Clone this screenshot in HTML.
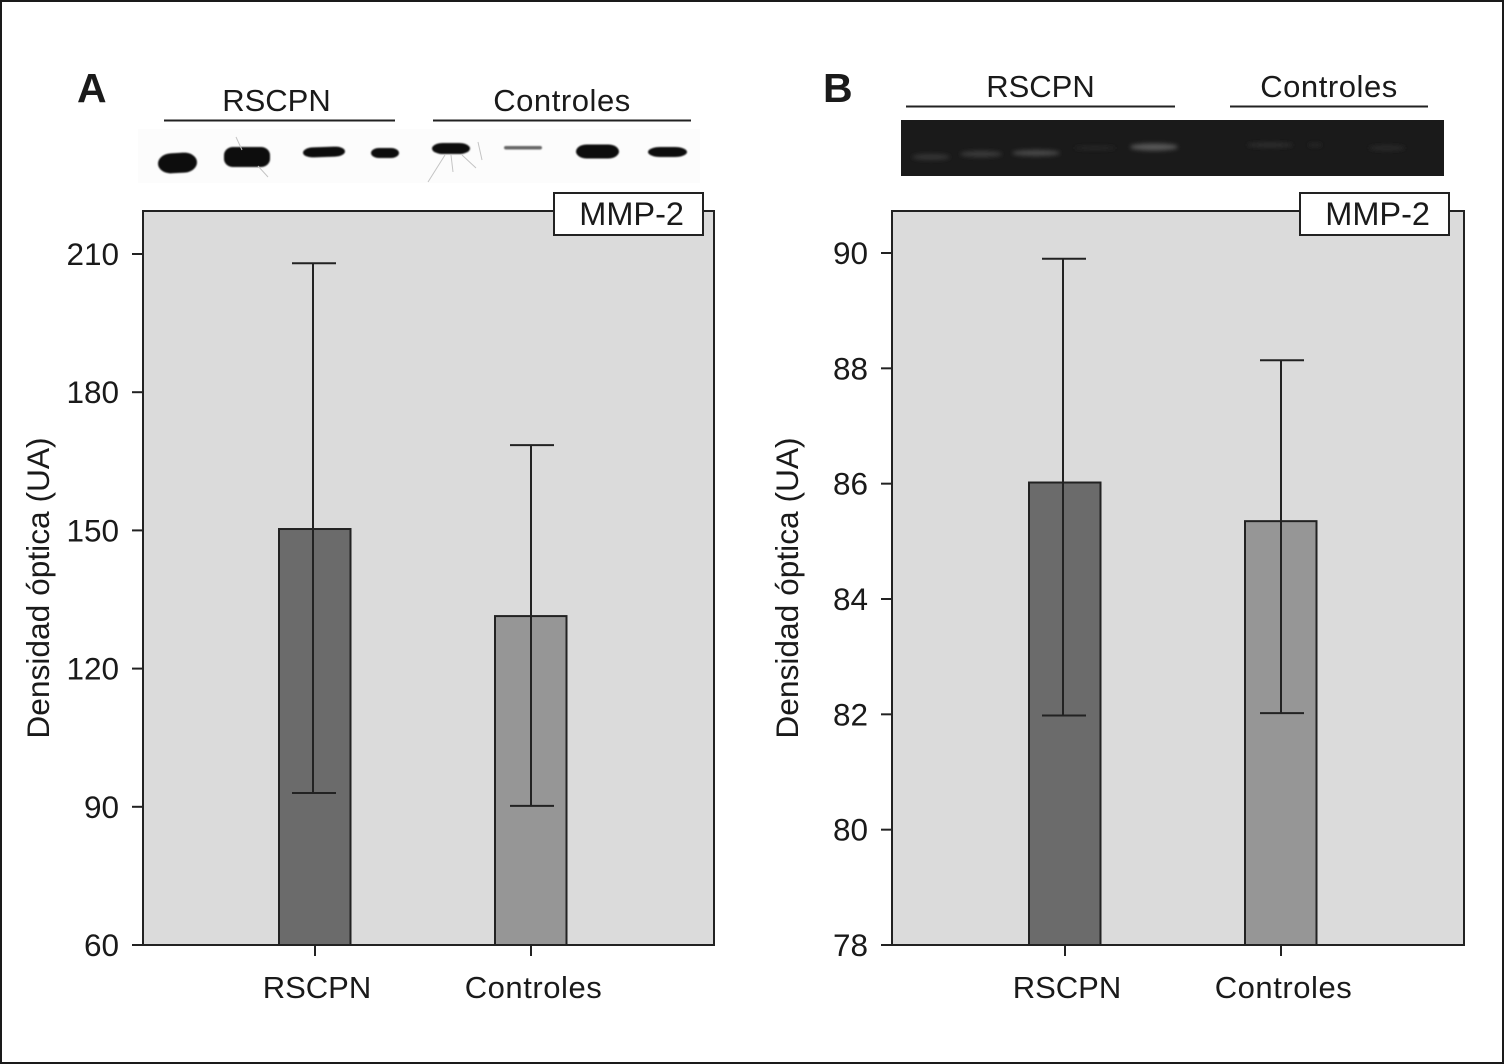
<!DOCTYPE html>
<html lang="es">
<head>
<meta charset="utf-8">
<title>Densidad óptica MMP-2</title>
<style>
html,body{margin:0;padding:0;background:#fff}
svg{display:block}
text{font-family:"Liberation Sans",sans-serif;fill:#1a1a1a}
</style>
</head>
<body>
<svg id="fig" xmlns="http://www.w3.org/2000/svg" width="1504" height="1064" viewBox="0 0 1504 1064">
  <defs>
    <filter id="b1" x="-30%" y="-60%" width="160%" height="220%"><feGaussianBlur stdDeviation="0.9"/></filter>
    <filter id="b2" x="-30%" y="-100%" width="160%" height="300%"><feGaussianBlur stdDeviation="2"/></filter>
  </defs>
  <rect x="1" y="1" width="1502" height="1062" fill="#fff" stroke="#1a1a1a" stroke-width="2"/>

  <text x="77" y="102" font-size="41" font-weight="bold">A</text>
  <text x="823" y="102" font-size="41" font-weight="bold">B</text>

  <g>
    <rect x="138" y="129" width="562" height="54" fill="#fcfcfc"/>
    <g fill="#0a0a0a" filter="url(#b1)">
      <rect x="158" y="153" width="39" height="20" rx="13" ry="10" transform="rotate(-3 177 163)"/>
      <rect x="224" y="147" width="46" height="20" rx="9" ry="8"/>
      <rect x="303" y="147" width="42" height="10" rx="10" ry="5" transform="rotate(-2 324 152)"/>
      <rect x="371" y="148" width="28" height="10" rx="8" ry="5"/>
      <rect x="432" y="143" width="38" height="11" rx="11" ry="5.500"/>
      <rect x="504" y="146" width="38" height="3.500" rx="2" ry="1.700" fill="#666"/>
      <rect x="576" y="144.500" width="43" height="14" rx="11" ry="7"/>
      <rect x="648" y="147" width="39" height="10" rx="12" ry="5"/>
    </g>
    <g stroke="#c4c4c4" stroke-width="1" fill="none">
      <path d="M236 137 L242 150 M258 166 L268 177"/>
      <path d="M445 155 L428 182 M451 155 L453 172 M462 155 L476 168 M478 142 L482 160"/>
    </g>
  </g>

  <g>
    <rect x="901" y="120" width="543" height="56" fill="#1a1a1a"/>
    <g filter="url(#b2)">
      <ellipse cx="931" cy="157" rx="19" ry="3" fill="#343434"/>
      <ellipse cx="981" cy="154" rx="21" ry="3" fill="#3a3a3a"/>
      <ellipse cx="1036" cy="153" rx="24" ry="3" fill="#4a4a4a"/>
      <ellipse cx="1095" cy="148" rx="21" ry="2" fill="#272727"/>
      <ellipse cx="1154" cy="147" rx="24" ry="3.500" fill="#585858"/>
      <ellipse cx="1270" cy="145" rx="23" ry="2.500" fill="#2e2e2e"/>
      <ellipse cx="1315" cy="145" rx="7" ry="2" fill="#262626"/>
      <ellipse cx="1387" cy="148" rx="18" ry="2.500" fill="#2c2c2c"/>
    </g>
  </g>

  <g id="plots"></g>
</svg>

<script>
var categories = ['RSCPN', 'Controles'];

var ticksA = [60, 90, 120, 150, 180, 210];
var meansA = [150.3, 131.4];
var errLowA = [93, 90.2];
var errHighA = [208, 168.5];

var ticksB = [78, 80, 82, 84, 86, 88, 90];
var meansB = [86.02, 85.35];
var errLowB = [81.98, 82.02];
var errHighB = [89.9, 88.14];

var yAxisTitle = 'Densidad óptica (UA)';
var tagLabel = 'MMP-2';

var NS = 'http://www.w3.org/2000/svg';
var plots = document.getElementById('plots');

function add(tag, attrs, parent, text) {
  var el = document.createElementNS(NS, tag);
  for (var k in attrs) el.setAttribute(k, attrs[k]);
  if (text !== undefined) el.textContent = text;
  (parent || plots).appendChild(el);
  return el;
}

function spacing(i) { return i ? 0.55 : 0; }

function drawPanel(p, cfg) {
  var g = add('g', {});
  
  

  var domainMin = cfg.ticks[0], domainMax = cfg.ticks[cfg.ticks.length - 1];
  function y(v) { return cfg.yBottom + (v - domainMin) * (cfg.yTop - cfg.yBottom) / (domainMax - domainMin); }
  function x(i) { return cfg.firstCenter + i * cfg.step; }

  // group headers above the blots
  cfg.headers.forEach(function (h, i) {
    var t = add('text', {x: (h.x1 + h.x2) / 2 + h.dx, y: h.y + 1, 'font-size': 31, 'letter-spacing': spacing(i), 'text-anchor': 'middle'}, g, categories[i]);
    
    
    var l = add('line', {x1: h.x1, x2: h.x2, y1: h.y + 10.500, y2: h.y + 10.500, stroke: '#222', 'stroke-width': 2}, g);
    
    
  });

  // plot background
  var bg = add('rect', {x: cfg.left, y: 211, width: cfg.right - cfg.left, height: cfg.yBottom - 211, fill: '#dbdbdb', stroke: '#222', 'stroke-width': 2}, g);
  
  

  // y ticks
  cfg.ticks.forEach(function (v) {
    var tk = add('line', {x1: cfg.left - 11, x2: cfg.left, y1: y(v), y2: y(v), stroke: '#222', 'stroke-width': 2}, g);
    
    
    var lb = add('text', {x: cfg.left - 24, y: y(v) + 11, 'font-size': 31.5, 'text-anchor': 'end'}, g, String(v));
    
    
  });

  // axis title
  var ty = add('text', {transform: 'translate(' + (cfg.left - 94) + ' 588) rotate(-90)', 'font-size': 31.7, 'text-anchor': 'middle'}, g, yAxisTitle);
  
  

  // bars
  categories.forEach(function (c, i) {
    var cx = x(i), name = c.toLowerCase();
    var bar = add('rect', {x: cx - 36, y: y(cfg.means[i]), width: 71.5, height: cfg.yBottom - y(cfg.means[i]), fill: cfg.fills[i], stroke: '#222', 'stroke-width': 2}, g);
    
    

    var ex = cx + cfg.errOffset[i];
    var stem = add('line', {x1: ex, x2: ex, y1: y(cfg.errHigh[i]), y2: y(cfg.errLow[i]), stroke: '#222', 'stroke-width': 2}, g);
    
    

    [cfg.errHigh[i], cfg.errLow[i]].forEach(function (v, j) {
      var cap = add('line', {x1: ex - 21, x2: ex + 23, y1: y(v), y2: y(v), stroke: '#222', 'stroke-width': 2}, g);
      
      
    });

    var xt = add('line', {x1: cx, x2: cx, y1: cfg.yBottom, y2: cfg.yBottom + 11, stroke: '#222', 'stroke-width': 2}, g);
    
    

    var xl = add('text', {x: cx + (i ? 2.500 : 2), y: 998, 'font-size': 31, 'letter-spacing': spacing(i), 'text-anchor': 'middle'}, g, c);
    
    
  });

  // tag
  var box = add('rect', {x: cfg.tagX, y: 193, width: 149, height: 42, fill: '#fff', stroke: '#222', 'stroke-width': 2}, g);
  
  
  var tag = add('text', {x: cfg.tagX + 130, y: 225, 'font-size': 32.5, 'text-anchor': 'end'}, g, tagLabel);
  
  
}

drawPanel('a', {
  ticks: ticksA, means: meansA, errLow: errLowA, errHigh: errHighA,
  left: 143, right: 714, yBottom: 945, yTop: 254,
  firstCenter: 315, step: 216, errOffset: [-2, 0],
  fills: ['#6b6b6b', '#969696'], tagX: 554,
  headers: [{x1: 164, x2: 395, y: 110, dx: -3}, {x1: 433, x2: 691, y: 110, dx: 0}]
});
drawPanel('b', {
  ticks: ticksB, means: meansB, errLow: errLowB, errHigh: errHighB,
  left: 892, right: 1464, yBottom: 945, yTop: 253,
  firstCenter: 1065, step: 216, errOffset: [-2, 0],
  fills: ['#6b6b6b', '#969696'], tagX: 1300,
  headers: [{x1: 906, x2: 1175, y: 96, dx: 0}, {x1: 1230, x2: 1428, y: 96, dx: 0}]
});
</script>
</body>
</html>
